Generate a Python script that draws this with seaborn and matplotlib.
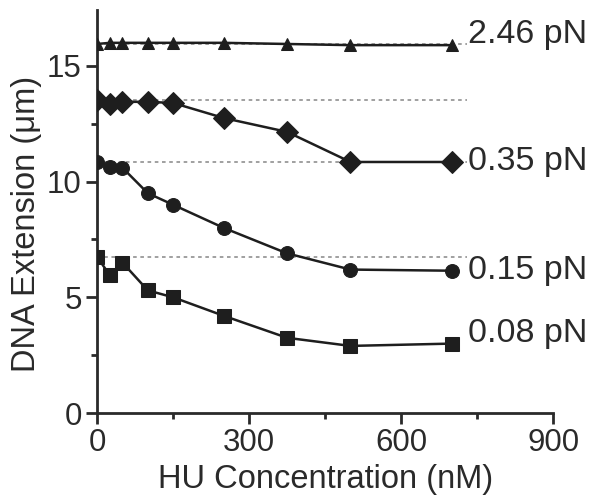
import pandas as pd
import matplotlib.pyplot as plt
import seaborn as sns
from matplotlib.ticker import MultipleLocator

# HU concentration (nM) and DNA extension (um) per stretching force
hu_nm = [0, 25, 50, 100, 150, 250, 375, 500, 700]
ext_246 = [15.95, 16.0, 16.0, 16.0, 16.0, 16.0, 15.95, 15.9, 15.9]
ext_035 = [13.55, 13.35, 13.45, 13.45, 13.4, 12.75, 12.15, 10.85, 10.85]
ext_015 = [10.85, 10.65, 10.6, 9.5, 9.0, 8.0, 6.9, 6.2, 6.15]
ext_008 = [6.75, 5.95, 6.5, 5.3, 5.0, 4.2, 3.25, 2.9, 3.0]

forces = ['2.46 pN', '0.35 pN', '0.15 pN', '0.08 pN']
series = [ext_246, ext_035, ext_015, ext_008]
markers = ['^', 'D', 'o', 's']
msizes = [9, 11, 10, 9.5]
label_dy = [0.45, 0.0, 0.0, 0.45]

rows = []
for f, vals in zip(forces, series):
    for x, y in zip(hu_nm, vals):
        rows.append({'hu': x, 'ext': y, 'force': f})
df = pd.DataFrame(rows)

sns.set_style('ticks')
plt.rcParams['font.family'] = ['Liberation Sans', 'DejaVu Sans']

fig = plt.figure(figsize=(5.96, 4.97), dpi=100)
ax = fig.add_axes([0.163, 0.169, 0.765, 0.81])

ink = '#1e1e1e'
txt = '#2a2a2a'
for f, vals, m, ms, dy in zip(forces, series, markers, msizes, label_dy):
    ax.hlines(vals[0], 0, 730, colors='#999999', linestyles=(0, (2, 2)), lw=1.3, zorder=1)
    sns.lineplot(data=df[df['force'] == f], x='hu', y='ext', marker=m, markersize=ms,
                 color=ink, markeredgecolor=ink, lw=1.8, ax=ax, zorder=3)
    ax.text(732, vals[-1] + dy, f, fontsize=24.5, color=txt, va='center', ha='left')

ax.set_xlim(0, 900)
ax.set_ylim(0, 17.4)
ax.set_xticks([0, 300, 600, 900])
ax.set_yticks([0, 5, 10, 15])
ax.xaxis.set_minor_locator(MultipleLocator(150))
ax.yaxis.set_minor_locator(MultipleLocator(2.5))
ax.tick_params(which='major', length=8, width=2, labelsize=22.5, colors=txt, pad=3)
ax.tick_params(which='minor', length=4, width=2, colors=txt)
for s in ['left', 'bottom']:
    ax.spines[s].set_linewidth(2)
    ax.spines[s].set_color(txt)
sns.despine(ax=ax)

ax.set_xlabel('HU Concentration (nM)', fontsize=23.5, color=txt, labelpad=4)
ax.set_ylabel('DNA Extension (\u03bcm)', fontsize=23.5, color=txt)
ax.yaxis.set_label_coords(-0.12, 0.47)

fig.savefig('out.png', dpi=100)
